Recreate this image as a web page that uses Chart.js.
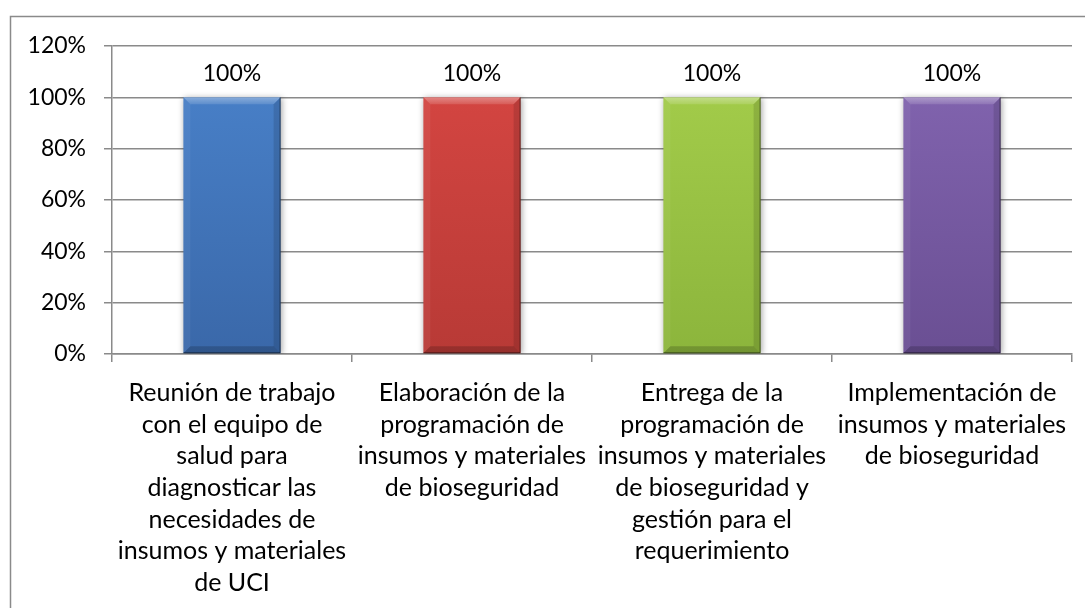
<!DOCTYPE html>
<html>
<head>
<meta charset="utf-8">
<script src="https://cdn.jsdelivr.net/npm/chart.js@4.4.1/dist/chart.umd.min.js"></script>
<style>
  html, body { margin: 0; padding: 0; background: #ffffff; overflow: hidden; }
  #wrap { position: relative; width: 1085px; height: 608px; }
  canvas { position: absolute; left: 0; top: 0; }
</style>
</head>
<body>
<div id="wrap"><canvas id="chart" width="1085" height="608"></canvas></div>
<script>
// Activities and their completion percentage
const categories = [
  ["Reunión de trabajo", "con el equipo de", "salud para", "diagnosticar las", "necesidades de", "insumos y materiales", "de UCI"],
  ["Elaboración de la", "programación de", "insumos y materiales", "de bioseguridad"],
  ["Entrega de la", "programación de", "insumos y materiales", "de bioseguridad y", "gestión para el", "requerimiento"],
  ["Implementación de", "insumos y materiales", "de bioseguridad"]
];
const completion = [100, 100, 100, 100];
const yTicks = [0, 20, 40, 60, 80, 100, 120];

// Bar palette: light (top) / dark (bottom) per activity
const topColors = ["#4a83cc", "#d84743", "#a6cf4c", "#8466b2"];
const bottomColors = ["#3a68a9", "#b83a36", "#8cb53c", "#6a4f93"];

const FONT = "'Lato', 'Open Sans', sans-serif";
const GRID = "#8a8a8a";

// Frame around the whole chart
const framePlugin = {
  id: 'frame',
  beforeDraw(chart) {
    const ctx = chart.ctx;
    ctx.save();
    ctx.strokeStyle = GRID;
    ctx.lineWidth = 1.5;
    ctx.strokeRect(10.5, 16.5, 1200, 800);
    ctx.restore();
  }
};

// Soft shadow behind the bars
const shadowPlugin = {
  id: 'barShadow',
  beforeDatasetDraw(chart) {
    const ctx = chart.ctx;
    ctx.save();
    ctx.shadowColor = 'rgba(0,0,0,0.35)';
    ctx.shadowBlur = 6;
    ctx.shadowOffsetX = 1;
    ctx.shadowOffsetY = 1;
  },
  afterDatasetDraw(chart) {
    chart.ctx.restore();
  }
};

// Bevelled edges and value labels on top of each bar
const bevelPlugin = {
  id: 'bevel',
  afterDatasetsDraw(chart) {
    const ctx = chart.ctx;
    const meta = chart.getDatasetMeta(0);
    meta.data.forEach((bar, i) => {
      const p = bar.getProps(['x', 'y', 'base', 'width'], true);
      const l = p.x - p.width / 2, r = p.x + p.width / 2;
      const t = p.y, b = p.base;
      const e = 7;
      ctx.save();
      // top facet
      const tg = ctx.createLinearGradient(0, t, 0, t + e);
      tg.addColorStop(0, 'rgba(255,255,255,0.35)');
      tg.addColorStop(1, 'rgba(255,255,255,0.12)');
      ctx.beginPath();
      ctx.moveTo(l, t); ctx.lineTo(r, t); ctx.lineTo(r - e, t + e); ctx.lineTo(l + e, t + e); ctx.closePath();
      ctx.fillStyle = tg;
      ctx.fill();
      // left facet
      ctx.beginPath();
      ctx.moveTo(l, t); ctx.lineTo(l + e, t + e); ctx.lineTo(l + e, b - e); ctx.lineTo(l, b); ctx.closePath();
      ctx.fillStyle = 'rgba(255,255,255,0.05)';
      ctx.fill();
      // right facet
      ctx.beginPath();
      ctx.moveTo(r, t); ctx.lineTo(r - e, t + e); ctx.lineTo(r - e, b - e); ctx.lineTo(r, b); ctx.closePath();
      ctx.fillStyle = 'rgba(0,0,0,0.12)';
      ctx.fill();
      // bottom facet
      ctx.beginPath();
      ctx.moveTo(l, b); ctx.lineTo(l + e, b - e); ctx.lineTo(r - e, b - e); ctx.lineTo(r, b); ctx.closePath();
      ctx.fillStyle = 'rgba(0,0,0,0.18)';
      ctx.fill();
      // dark outline on right and bottom
      ctx.strokeStyle = 'rgba(0,0,0,0.45)';
      ctx.lineWidth = 1;
      ctx.beginPath();
      ctx.moveTo(r - 0.5, t); ctx.lineTo(r - 0.5, b - 0.5); ctx.lineTo(l, b - 0.5);
      ctx.stroke();
      // value label
      ctx.fillStyle = '#000';
      ctx.font = '23px ' + FONT;
      ctx.textAlign = 'center';
      ctx.textBaseline = 'middle';
      ctx.fillText(completion[i] + '%', p.x, t - 24);
      ctx.restore();
    });
  }
};

const ctx = document.getElementById('chart').getContext('2d');

function barGradient(context) {
  const chart = context.chart;
  const area = chart.chartArea;
  const i = context.dataIndex;
  if (!area) return topColors[i];
  const g = chart.ctx.createLinearGradient(0, area.top, 0, area.bottom);
  g.addColorStop(0, topColors[i]);
  g.addColorStop(1, bottomColors[i]);
  return g;
}

new Chart(ctx, {
  type: 'bar',
  data: {
    labels: categories,
    datasets: [{
      data: completion,
      backgroundColor: barGradient,
      borderWidth: 0,
      categoryPercentage: 1,
      barPercentage: 0.405
    }]
  },
  options: {
    responsive: false,
    animation: false,
    layout: { padding: { left: 0, top: 46, right: 13, bottom: 0 } },
    plugins: {
      legend: { display: false },
      tooltip: { enabled: false },
      title: { display: false }
    },
    scales: {
      x: {
        offset: true,
        grid: {
          offset: true,
          drawOnChartArea: false,
          drawTicks: true,
          tickLength: 8,
          color: GRID,
          lineWidth: 1.5
        },
        border: { display: true, color: GRID, width: 1.5 },
        ticks: {
          autoSkip: false,
          maxRotation: 0,
          minRotation: 0,
          padding: 15,
          color: '#000',
          font: { family: FONT, size: 25, lineHeight: '31.7px' }
        },
        afterFit(scale) { scale.height = 608 - 354; }
      },
      y: {
        min: 0,
        max: 120,
        afterBuildTicks(scale) { scale.ticks = yTicks.map(v => ({ value: v })); },
        grid: {
          color: GRID,
          lineWidth: 1.5,
          tickLength: 8
        },
        border: { display: true, color: GRID, width: 1.5 },
        ticks: {
          padding: 18,
          color: '#000',
          font: { family: FONT, size: 23 },
          callback: v => v + '%'
        },
        afterFit(scale) { scale.width = 112; }
      }
    }
  },
  plugins: [framePlugin, shadowPlugin, bevelPlugin]
});
</script>
</body>
</html>
